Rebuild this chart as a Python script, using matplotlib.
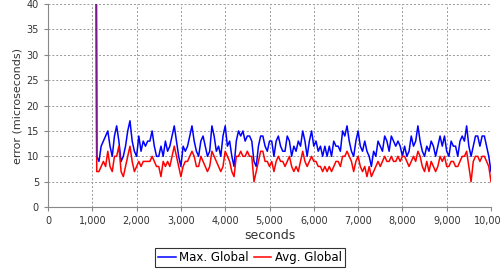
import numpy as np
import matplotlib
matplotlib.use('Agg')
import matplotlib.pyplot as plt
from matplotlib.ticker import FuncFormatter, MultipleLocator

# sample times (seconds); first sample is the start-up spike
start_time = 1080
times = np.arange(1100, 10001, 50)

spike_value = 80  # off the top of the chart

max_global = [
    # 1100 - 2000
    10, 9, 12, 13, 14, 15, 12, 10, 14, 16, 13, 9, 10, 12, 15, 17, 13, 11, 10,
    # 2050 - 3000
    14, 11, 13, 12, 13, 13, 15, 12, 10, 10, 12, 10, 13, 11, 12, 14, 16, 13, 10, 8,
    # 3050 - 4000
    12, 11, 12, 14, 16, 13, 11, 10, 13, 14, 12, 10, 11, 16, 14, 11, 12, 10, 14, 16,
    # 4050 - 5000
    12, 13, 10, 8, 13, 15, 14, 15, 13, 14, 14, 13, 9, 8, 12, 14, 14, 12, 11, 13,
    # 5050 - 6000
    13, 10, 13, 14, 12, 11, 11, 14, 13, 10, 12, 11, 13, 12, 15, 13, 10, 13, 15, 12,
    # 6050 - 7000
    13, 11, 12, 10, 12, 10, 12, 10, 13, 12, 12, 11, 15, 14, 16, 13, 11, 10, 13, 15,
    # 7050 - 8000
    12, 11, 13, 11, 10, 8, 11, 10, 13, 12, 11, 14, 13, 11, 14, 13, 12, 13, 12, 10,
    # 8050 - 9000
    12, 10, 11, 14, 12, 13, 16, 13, 11, 10, 12, 11, 13, 12, 10, 12, 14, 12, 14, 11,
    # 9050 - 10000
    10, 13, 12, 12, 10, 13, 14, 13, 16, 12, 10, 12, 14, 14, 12, 14, 14, 12, 10, 7,
]

avg_global = [
    # 1100 - 2000
    7, 7, 8, 9, 8, 11, 8, 7, 10, 10, 12, 7, 6, 8, 10, 12, 9, 7, 8,
    # 2050 - 3000
    9, 8, 9, 9, 9, 9, 10, 9, 8, 8, 6, 9, 8, 9, 8, 10, 12, 10, 8, 6,
    # 3050 - 4000
    8, 9, 9, 10, 11, 10, 8, 8, 10, 9, 8, 7, 8, 11, 10, 9, 8, 7, 8, 11,
    # 4050 - 5000
    10, 9, 7, 6, 10, 10, 11, 10, 10, 11, 10, 10, 5, 7, 9, 11, 11, 9, 9, 8,
    # 5050 - 6000
    9, 7, 9, 10, 9, 9, 8, 9, 10, 8, 7, 8, 7, 9, 11, 9, 8, 9, 10, 9,
    # 6050 - 7000
    9, 8, 8, 7, 8, 7, 8, 7, 8, 9, 9, 8, 10, 10, 11, 10, 9, 7, 9, 10,
    # 7050 - 8000
    8, 7, 8, 6, 8, 6, 7, 8, 9, 8, 9, 10, 9, 9, 10, 9, 9, 10, 9, 10,
    # 8050 - 9000
    10, 9, 8, 9, 10, 9, 11, 10, 8, 7, 9, 7, 9, 8, 7, 8, 10, 9, 10, 8,
    # 9050 - 10000
    8, 9, 9, 8, 8, 9, 10, 10, 11, 8, 5, 9, 10, 10, 9, 10, 10, 9, 8, 5,
]

x = np.concatenate([[start_time], times])
y_max = np.concatenate([[spike_value], max_global])
y_avg = np.concatenate([[spike_value], avg_global])

fig = plt.figure(figsize=(5, 2.7), dpi=100)
ax = fig.add_axes([0.096, 0.233, 0.886, 0.752])

# both series share the start-up spike, which renders as a purple blend
ax.plot(x, y_max, color='#0000ff', lw=1.1, label='Max. Global', zorder=2)
ax.plot(x, y_avg, color='#ff0000', lw=1.1, label='Avg. Global', zorder=3)
ax.plot(x[:2], y_max[:2], color='#7a1a8a', lw=1.1, zorder=4)

ax.set_xlim(0, 10000)
ax.set_ylim(0, 40)
ax.xaxis.set_major_locator(MultipleLocator(1000))
ax.yaxis.set_major_locator(MultipleLocator(5))
ax.xaxis.set_major_formatter(FuncFormatter(lambda v, p: f'{int(v):,}'))

ax.grid(True, color='#999999', linestyle=(0, (2, 2)), linewidth=0.7)
ax.set_axisbelow(True)
for side in ['top', 'right']:
    ax.spines[side].set_visible(False)
for side in ['left', 'bottom']:
    ax.spines[side].set_color('#888888')
    ax.spines[side].set_linewidth(0.8)
ax.tick_params(colors='#888888', labelcolor='#333333', labelsize=7, length=3, width=0.8)

ax.set_xlabel('seconds', fontsize=9, color='#333333', labelpad=2)
ax.set_ylabel('error (microseconds)', fontsize=8, color='#333333', labelpad=3)

leg = fig.legend(loc='center', bbox_to_anchor=(0.5, 0.046),
                 ncol=2, fontsize=8.5, frameon=True, fancybox=False,
                 handlelength=1.5, handletextpad=0.3, columnspacing=0.4,
                 borderpad=0.25, borderaxespad=0)
leg.get_frame().set_edgecolor('black')
leg.get_frame().set_linewidth(0.8)

fig.savefig('out.png', dpi=100)
